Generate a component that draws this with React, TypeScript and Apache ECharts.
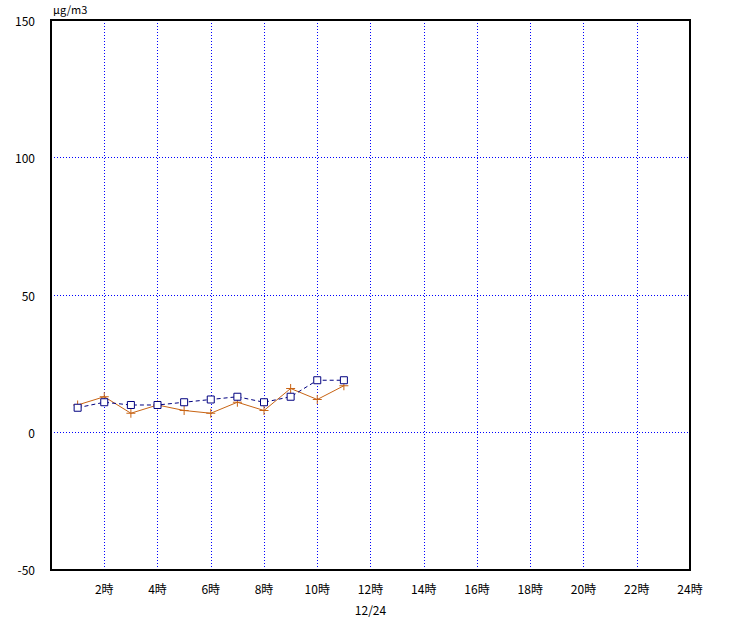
import React, { useEffect, useRef } from "react";
import * as echarts from "echarts";

const hours = [1, 2, 3, 4, 5, 6, 7, 8, 9, 10, 11];
const seriesA = [10, 13, 7, 10, 8, 7, 11, 8, 16, 12, 17]; // orange crosses
const seriesB = [9, 11, 10, 10, 11, 12, 13, 11, 13, 19, 19]; // navy squares
const yTicks = [-50, 0, 50, 100, 150];
const xTickStep = 2;
const unitLabel = "μg/m3";
const dateLabel = "12/24";

const FONT = "'Noto Sans CJK JP', 'DejaVu Sans', sans-serif";

export default function App() {
  const ref = useRef<HTMLDivElement>(null);
  useEffect(() => {
    const chart = echarts.init(ref.current!, null, { renderer: "svg" });
    const cross = "path://M0,5L10,5M5,0L5,10";
    chart.setOption({
      animation: false,
      backgroundColor: "#ffffff",
      textStyle: { fontFamily: FONT },
      grid: {
        left: 51,
        right: 48,
        top: 20,
        bottom: 50,
        show: false,
      },
      graphic: [
        {
          type: "text",
          left: 53,
          top: 3,
          style: { text: unitLabel, fontSize: 11, fill: "#000", fontFamily: FONT },
        },
        {
          type: "rect",
          z: 100,
          shape: { x: 51, y: 20, width: 639, height: 550 },
          style: { fill: "none", stroke: "#000", lineWidth: 2 },
          silent: true,
        },
      ],
      xAxis: {
        type: "value",
        min: 0,
        max: 24,
        interval: xTickStep,
        name: dateLabel,
        nameLocation: "middle",
        nameGap: 33,
        nameTextStyle: { color: "#000", fontSize: 12, fontFamily: FONT },
        axisLine: { show: false },
        axisTick: { show: false },
        axisLabel: {
          color: "#000",
          fontSize: 12,
          margin: 12,
          formatter: (v: number) => (v === 0 ? "" : `${v}時`),
        },
        splitLine: { show: true, lineStyle: { color: "#0000ff", width: 1, type: [1, 2] } },
      },
      yAxis: {
        type: "value",
        min: yTicks[0],
        max: yTicks[yTicks.length - 1],
        interval: 50,
        axisLine: { show: false },
        axisTick: { show: false },
        axisLabel: { color: "#000", fontSize: 12, margin: 16 },
        splitLine: { show: true, lineStyle: { color: "#0000ff", width: 1, type: [1, 2] } },
      },
      series: [
        {
          type: "line",
          data: hours.map((h, i) => [h, seriesA[i]]),
          lineStyle: { color: "#c86414", width: 1 },
          symbol: cross,
          symbolSize: 9,
          itemStyle: { color: "none", borderColor: "#c86414", borderWidth: 1 },
          z: 2,
        },
        {
          type: "line",
          data: hours.map((h, i) => [h, seriesB[i]]),
          lineStyle: { color: "#000080", width: 1, type: [4, 3] },
          symbol: "rect",
          symbolSize: 7,
          itemStyle: { color: "#ffffff", borderColor: "#000080", borderWidth: 1 },
          z: 3,
        },
      ],
    });
    return () => chart.dispose();
  }, []);
  return (
    <div
      ref={ref}
      style={{ position: "fixed", left: 0, top: 0, width: 738, height: 620 }}
    />
  );
}
